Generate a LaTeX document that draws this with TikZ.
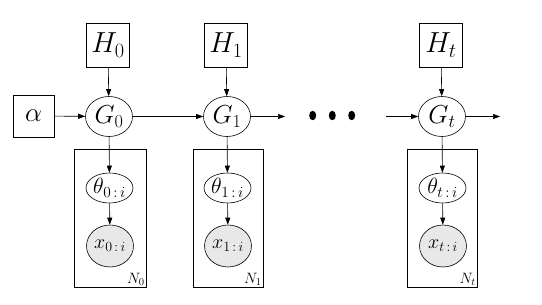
\RequirePackage{fix-cm}
\documentclass[tikz,border=0pt]{standalone}
\usetikzlibrary{shapes.geometric,arrows.meta}
\begin{document}
\begin{tikzpicture}[x=1pt,y=-1pt,
  every path/.style={line width=0.6pt},
  conn/.style={-{Triangle[length=7pt,width=5pt]},line width=0.6pt},
  hyper/.style={draw,rectangle,minimum width=43pt,minimum height=44pt,inner sep=0pt,font=\fontsize{29}{32}\selectfont},
  gnode/.style={draw,ellipse,minimum width=47pt,minimum height=40pt,inner sep=0pt,font=\fontsize{26}{29}\selectfont},
  tnode/.style={draw,ellipse,minimum width=47pt,minimum height=30pt,inner sep=0pt,font=\fontsize{22}{25}\selectfont},
  xnode/.style={draw,ellipse,fill=gray!18,minimum width=47pt,minimum height=42pt,inner sep=0pt,font=\fontsize{20}{23}\selectfont},
  plate/.style={draw,rectangle,line width=0.7pt},
  plab/.style={anchor=south east,inner sep=1pt,font=\fontsize{15}{17}\selectfont},
  dot/.style={fill=black,ellipse,minimum width=7pt,minimum height=9.5pt,inner sep=0pt}
]
\useasboundingbox (0,0) rectangle (542,305);
% plates
\draw[plate] (74,149) rectangle (146,287);
\draw[plate] (193,149) rectangle (263,287);
\draw[plate] (407,149) rectangle (477,287);
\coordinate (p0) at (146,287);
\coordinate (p1) at (263,287);
\coordinate (pt) at (477,287);
\node[plab] (n0) at (p0) {$N_0$};
\node[plab] (n1) at (p1) {$N_1$};
\node[plab] (nt) at (pt) {$N_t$};
% nodes
\node[hyper,minimum width=41pt,minimum height=42pt,font=\fontsize{27}{30}\selectfont] (al) at (33.5,116) {$\alpha$};
\node[hyper] (h0) at (108,45) {$H_0$};
\node[hyper] (h1) at (226,45) {$H_1$};
\node[hyper] (ht) at (441,45) {$H_t$};
\node[gnode] (g0) at (109,116.5) {$G_0$};
\node[gnode] (g1) at (227,116.5) {$G_1$};
\node[gnode] (gt) at (442,116.5) {$G_t$};
\node[tnode] (t0) at (109.5,188) {$\theta_{0\,:\,i}$};
\node[tnode] (t1) at (227.5,188) {$\theta_{1\,:\,i}$};
\node[tnode] (tt) at (442.5,188) {$\theta_{t\,:\,i}$};
\node[xnode] (x0) at (110,246) {$x_{0\,:\,i}$};
\node[xnode] (x1) at (228,246) {$x_{1\,:\,i}$};
\node[xnode] (xt) at (443,246) {$x_{t\,:\,i}$};
% dots
\node[dot] (d1) at (312.7,115.5) {};
\node[dot] (d2) at (332.3,115.5) {};
\node[dot] (d3) at (351.7,115.5) {};
\coordinate (e1) at (285,116.5);
\coordinate (s2) at (386,116.5);
\coordinate (e2) at (500,116.5);
% connectors
\draw[conn] (al) -- (g0);
\draw[conn] (h0) -- (g0);
\draw[conn] (h1) -- (g1);
\draw[conn] (ht) -- (gt);
\draw[conn] (g0) -- (g1);
\draw[conn] (g1) -- (e1);
\draw[conn] (s2) -- (gt);
\draw[conn] (gt) -- (e2);
\draw[conn] (g0) -- (t0);
\draw[conn] (g1) -- (t1);
\draw[conn] (gt) -- (tt);
\draw[conn] (t0) -- (x0);
\draw[conn] (t1) -- (x1);
\draw[conn] (tt) -- (xt);
\end{tikzpicture}
\end{document}
